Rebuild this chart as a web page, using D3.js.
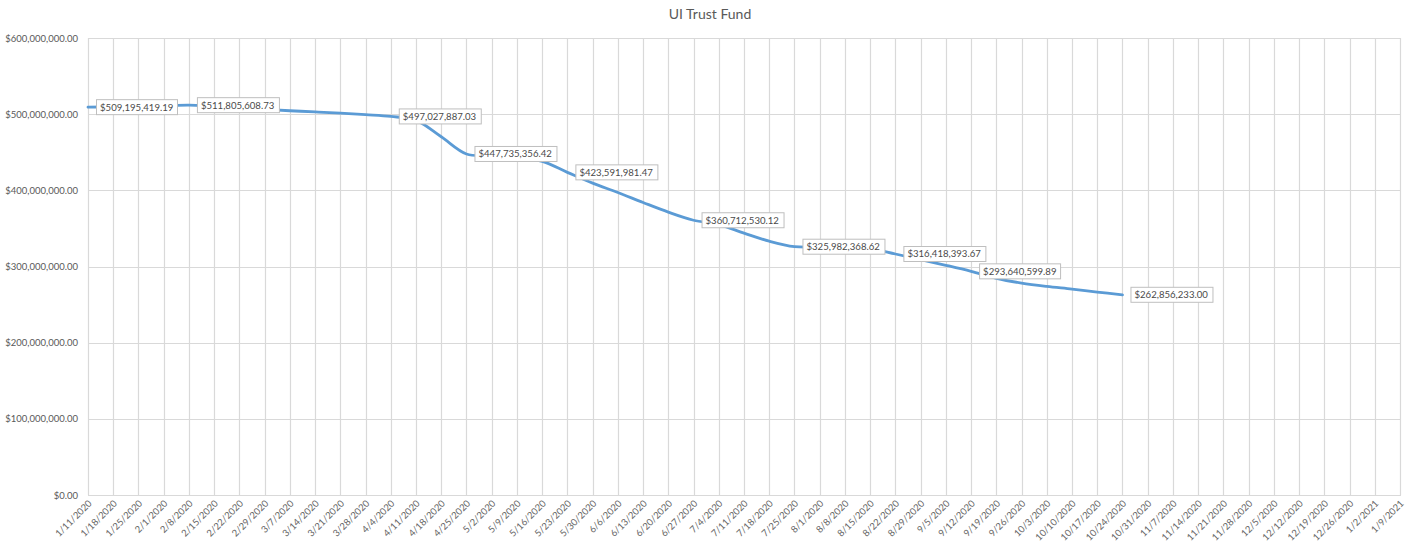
<!DOCTYPE html>
<html>
<head>
<meta charset="utf-8">
<script src="https://cdn.jsdelivr.net/npm/d3@7"></script>
<style>
  body { margin: 0; background: #fff; }
  text { font-family: Lato, "Open Sans", sans-serif; }
</style>
</head>
<body>
<script>
// weekly dates on the x axis
var weeks = ["1/11/2020","1/18/2020","1/25/2020","2/1/2020","2/8/2020","2/15/2020","2/22/2020","2/29/2020",
  "3/7/2020","3/14/2020","3/21/2020","3/28/2020","4/4/2020","4/11/2020","4/18/2020","4/25/2020",
  "5/2/2020","5/9/2020","5/16/2020","5/23/2020","5/30/2020","6/6/2020","6/13/2020","6/20/2020",
  "6/27/2020","7/4/2020","7/11/2020","7/18/2020","7/25/2020","8/1/2020","8/8/2020","8/15/2020",
  "8/22/2020","8/29/2020","9/5/2020","9/12/2020","9/19/2020","9/26/2020","10/3/2020","10/10/2020",
  "10/17/2020","10/24/2020","10/31/2020","11/7/2020","11/14/2020","11/21/2020","11/28/2020",
  "12/5/2020","12/12/2020","12/19/2020","12/26/2020","1/2/2021","1/9/2021"];

// fund balance, one per week (only the first 42 weeks have data)
var balance = [509195419.19, 509600000, 510100000, 510800000, 511805608.73, 510000000, 508100000, 506300000,
  504500000, 503000000, 501300000, 499300000, 497027887.03, 491800000, 470300000, 447735356.42,
  445500000, 442000000, 438000000, 423591981.47, 409400000, 397100000, 384000000, 371400000,
  360712530.12, 355000000, 343800000, 333200000, 325982368.62, 325500000, 324800000, 323500000,
  316418393.67, 309100000, 301600000, 293640599.89, 284500000, 278200000, 273800000, 270300000,
  266400000, 262856233.00];

// weeks that carry a data label
var labelled = [0, 4, 12, 15, 19, 24, 28, 32, 35, 41];

var yTicks = [0, 100e6, 200e6, 300e6, 400e6, 500e6, 600e6];

var W = 1419, H = 544;
var plotL = 88, plotR = 1400, plotT = 38, plotB = 495;

var svg = d3.select("body").append("svg")
  .attr("width", W)
  .attr("height", H);

var x = d3.scalePoint()
  .domain(weeks)
  .range([plotL, plotR]);

var y = d3.scaleLinear()
  .domain([0, 600e6])
  .range([plotB, plotT]);

var money = d3.format("$,.2f");

// title
svg.append("text")
  .attr("x", 710)
  .attr("y", 19)
  .attr("text-anchor", "middle")
  .attr("font-size", 14)
  .attr("fill", "#595959")
  .text("UI Trust Fund");

// horizontal gridlines
svg.append("g")
  .selectAll("line")
  .data(yTicks)
  .enter()
  .append("line")
  .attr("x1", plotL)
  .attr("x2", plotR + 1)
  .attr("y1", function(d) { return Math.round(y(d)) + 0.5; })
  .attr("y2", function(d) { return Math.round(y(d)) + 0.5; })
  .attr("stroke", "#d9d9d9")
  .attr("stroke-width", 1.2);

// vertical gridlines
svg.append("g")
  .selectAll("line")
  .data(weeks)
  .enter()
  .append("line")
  .attr("x1", function(d) { return Math.round(x(d)) + 0.5; })
  .attr("x2", function(d) { return Math.round(x(d)) + 0.5; })
  .attr("y1", plotT)
  .attr("y2", plotB)
  .attr("stroke", "#d9d9d9")
  .attr("stroke-width", 1.2);

// y axis labels
var yAxis = d3.axisLeft(y)
  .tickValues(yTicks)
  .tickSize(0)
  .tickPadding(10)
  .tickFormat(money);

svg.append("g")
  .attr("transform", "translate(" + plotL + ",0)")
  .call(yAxis)
  .call(function(g) { g.select(".domain").remove(); })
  .selectAll("text")
  .attr("font-family", "Lato, sans-serif")
  .attr("font-size", 9.5)
  .attr("fill", "#595959");

// x axis labels, rotated
var xAxis = d3.axisBottom(x)
  .tickSize(0)
  .tickPadding(0);

svg.append("g")
  .attr("transform", "translate(0," + plotB + ")")
  .call(xAxis)
  .call(function(g) { g.select(".domain").remove(); })
  .selectAll("text")
  .attr("font-family", "Lato, sans-serif")
  .attr("font-size", 9.5)
  .attr("fill", "#666")
  .attr("text-anchor", "end")
  .attr("dy", null)
  .attr("y", 0)
  .attr("transform", "translate(4,9) rotate(-45)");

// balance line
var pts = balance.map(function(v, i) { return [x(weeks[i]), y(v)]; });

var line = d3.line()
  .curve(d3.curveCatmullRom.alpha(0.5));

svg.append("path")
  .attr("d", line(pts))
  .attr("fill", "none")
  .attr("stroke", "#5b9bd5")
  .attr("stroke-width", 2.8)
  .attr("stroke-linejoin", "round")
  .attr("stroke-linecap", "round");

// data labels
var lab = svg.append("g")
  .selectAll("g")
  .data(labelled)
  .enter()
  .append("g")
  .attr("transform", function(i) {
    return "translate(" + (x(weeks[i]) + 8) + "," + y(balance[i]) + ")";
  });

lab.append("text")
  .attr("x", 4)
  .attr("y", 0)
  .attr("dy", "0.35em")
  .attr("font-size", 9.6)
  .attr("fill", "#4a4a4a")
  .text(function(i) { return money(balance[i]); });

lab.insert("rect", "text")
  .each(function() {
    var t = d3.select(this.parentNode).select("text").node().getBBox();
    d3.select(this)
      .attr("x", 0.5)
      .attr("y", -7.5)
      .attr("width", Math.round(t.width + 8))
      .attr("height", 15);
  })
  .attr("fill", "#fff")
  .attr("stroke", "#bfbfbf")
  .attr("stroke-width", 1);
</script>
</body>
</html>
